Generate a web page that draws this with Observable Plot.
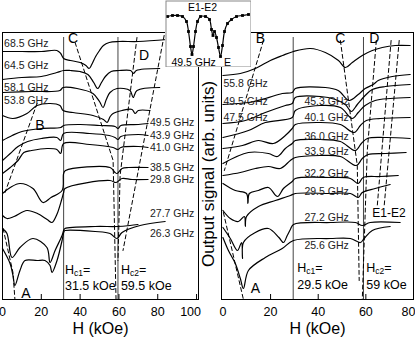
<!DOCTYPE html>
<html><head><meta charset="utf-8">
<script src="https://cdn.jsdelivr.net/npm/d3@7"></script>
<script src="https://cdn.jsdelivr.net/npm/@observablehq/plot@0.6"></script>
<style>
body{margin:0;background:#fff;}
#wrap{position:relative;width:415px;height:345px;overflow:hidden;}
#wrap svg{overflow:visible;}
</style></head><body><div id="wrap"></div>
<script>
// ---------- data: left panel (H in kOe, signal in arb. units) ----------
const leftFreqs = ["68.5 GHz","64.5 GHz","58.1 GHz","53.8 GHz","49.5 GHz","43.9 GHz","41.0 GHz","38.5 GHz","29.8 GHz","27.7 GHz","26.3 GHz"];
const L685 = [[0,248],[10,248],[20,248],[28,249],[30,246],[31.5,241],[35,239],[40,237],[43,234],[44.6,231],[46,235],[48,243],[50,249],[52,254],[55,257],[60,258],[70,258],[85,260]];
const L645 = [[0,220],[10,222],[20,223],[28,227],[31.5,229],[35,229],[40,228],[44,225],[47,217],[49,211],[51,217],[53,223],[56,228],[60,229],[66,229],[67.5,226],[69,229],[81,231]];
const L581 = [[0,207],[15,208],[29.6,209],[31.2,212],[38.4,211],[46.6,206],[50,198],[51.8,192],[53.5,200],[55.4,207],[59,211],[65.7,209],[67.3,202],[69.3,209],[81,212]];
const L538 = [[0,184],[5.4,181],[12.6,186],[17.8,194],[24.5,196],[29.6,194],[31.2,189],[36.3,187],[46.6,184],[52,180],[53.9,177],[55.5,183],[57,186],[61.6,189],[66.8,190],[68.3,186],[70,189],[76,189]];
const L495 = [[0,159],[5,164],[10,168],[20,171],[30,172],[31.5,174],[40,175],[50,174],[58,173],[59.5,171],[61,174],[70,175],[75,176]];
const L439 = [[0,139],[4,146],[8,153],[13,158],[20,161],[28,162],[30,159],[31.5,166],[45,166],[55,164],[58,162],[59.5,160],[61,163],[70,165],[75,164]];
const L410 = [[0,126],[4,132],[8,139],[11,147],[15,149],[23,151],[28,150],[30,146],[31.5,156],[45,155],[57,152],[59.5,150],[61,152],[70,153],[75,152]];
const L385 = [[0,106],[4,112],[9,116],[15.7,111],[20.9,97],[25,102],[30.7,109],[31.5,126],[32.5,129],[55.4,132],[58,127],[59,126],[61.6,131],[65,132],[75,132]];
const L298 = [[0,84],[2.3,81],[6,83],[12.6,89],[18,86],[23,80],[25.5,77],[28,85],[30.5,100],[31.5,107],[32.2,111],[55.4,119],[58.5,117],[61.6,121],[66.8,120],[75,120]];
const L277 = [[0,71],[2.3,66],[4.9,42],[9,52],[15.7,61],[22.9,52],[24.5,37],[27.1,49],[30.7,64],[31.7,70],[32.2,71],[47.7,73],[59,73],[65.7,74],[69.8,75]];
const L263 = [[0,51],[3.9,36],[5.4,24],[6.4,14],[9,29],[11.6,39],[17.8,39],[21.9,39],[24.5,34],[25.5,27],[28.1,39],[30.7,59],[31.7,68],[32.2,69],[47.7,68],[55.4,66],[59,61],[61.6,67],[70.9,74],[83.8,78]];
const leftCurves = [L685,L645,L581,L538,L495,L439,L410,L385,L298,L277,L263];
const leftHc = [31.5, 59.5];
const leftTicks = [0,20,40,60,80,100];
// guide (dashed) lines, left
const LA = [[0.3,71],[5.4,27],[6.4,0]];
const LB = [[17.8,196],[1.3,107]];
const LC = [[37.4,257],[57,139],[58.5,0]];
const LD1 = [[69.3,262],[60.6,124],[59.5,39]];
const LD2 = [[83.3,264],[62.1,49]];

// ---------- data: right panel ----------
const rightFreqs = ["55.8 GHz","49.5 GHz","47.5 GHz","45.3 GHz","40.1 GHz","36.0 GHz","33.9 GHz","32.2 GHz","29.5 GHz","27.2 GHz","25.6 GHz"];
const R558 = [[0,224],[7.3,226],[13.6,231],[19.9,239],[25,244],[29.6,248],[36.7,251],[43,247],[48.5,239],[51.4,232],[54.3,237],[58.5,244],[62.7,249],[66.9,252],[72.3,254],[78.6,254]];
const R495 = [[0,195],[10.7,197],[17.8,201],[24.9,206],[29.1,207],[30.4,211],[43,212],[48.4,209],[53,199],[56.8,205],[59.7,211],[63.1,215],[65.2,219],[71.1,223],[78.6,225]];
const R475 = [[0,176],[9.4,179],[17.8,187],[26.2,194],[29.1,196],[30.4,202],[40.9,203],[47.2,200],[51.4,195],[53.9,188],[56.4,195],[59.7,204],[62.7,210],[68.2,213],[78.6,215]];
const R453 = [[0,162],[10.7,169],[17.8,177],[29.1,182],[30.4,189],[40.9,194],[49.3,192],[54.3,181],[56.8,187],[59.7,194],[63.9,199],[70.2,201],[78.6,202]];
const R401 = [[0,151],[8.2,154],[14.9,159],[21.2,156],[26.2,164],[29.1,171],[30.4,175],[40.9,177],[49.3,175],[55.1,167],[57.7,174],[60.2,179],[66,181],[78.6,182]];
const R360 = [[0,136],[10.7,147],[19.1,146],[22.9,143],[26.2,151],[29.1,156],[30.4,159],[40.9,160],[49.3,158],[55.6,149],[58.1,156],[60.6,161],[68.2,162],[78.6,161]];
const R339 = [[0,124],[7.3,127],[13.6,131],[19.1,133],[24.1,131],[28.3,139],[30.4,142],[40.9,144],[49.3,143],[56,134],[58.5,141],[61,145],[68.2,146],[76.9,147]];
const R322 = [[0,116],[5.2,109],[9.9,106],[10.5,96],[11.1,106],[14.9,109],[19.1,112],[22.9,103],[25.4,111],[29.1,118],[30.4,121],[45.1,122],[53.5,121],[56.8,116],[58.9,122],[66,123],[73.6,124]];
const R295 = [[0,89],[3.1,81],[6.5,78],[9,83],[9.4,73],[9.9,83],[14.9,93],[22,99],[28.3,104],[30.4,106],[45.1,106],[53.5,106],[56.8,102],[58.5,107],[63.9,111],[70.2,115]];
const R272 = [[0,72],[3.1,61],[6.1,49],[7.8,57],[8.2,41],[8.6,57],[13.6,67],[19.1,71],[23.5,62],[25.4,57],[27,64],[28.3,70],[29.6,75],[45.1,77],[55.6,77],[58.5,74],[61.8,77],[74.4,77]];
const R256 = [[0,62],[2.3,49],[5.2,36],[7.3,21],[8.6,11],[10.7,29],[17.8,42],[24.9,51],[29.6,59],[45.1,61],[53.5,61],[57.7,57],[59.3,61],[62.7,69],[70.2,73]];
const rightCurves = [R558,R495,R475,R453,R401,R360,R339,R322,R295,R272,R256];
const rightHc = [29.5, 59];
const rightTicks = [0,20,40,60,80];
const RA = [[0.2,87],[8.6,0]];
const RB = [[17,259],[0.6,129]];
const RC = [[49.3,259],[56.4,134],[57.2,19]];
const RD = [[64.4,259],[60.6,149],[58.5,0]];
const RE1 = [[70.6,259],[64.8,94]];
const RE2 = [[74,259],[67.7,94]];

// ---------- data: inset (E1-E2 line at 49.5 GHz) ----------
const insetH = [2,7,12,17,21,23,25,26.5,28,30,32,35,40,44,46,47.5,49,51,53,55,57,59,62,66,71,77,83];
const insetS = [51,52,52,51,46,36,21,13,21,36,46,51,51,48,38,32,36,30,20,11,22,36,44,48,51,52,53];

// ---------- helpers ----------
const FONT = "'Liberation Sans', Arial, Helvetica, sans-serif";
const rows = (curves, names) => curves.flatMap((c, i) => c.map(([H, s]) => ({H, s, f: names[i]})));
const guides = (list) => list.flatMap((g, i) => g.map(([H, s]) => ({H, s, g: i})));

function subscriptHc(svg) {
  d3.select(svg).selectAll("text").each(function() {
    const t = this.textContent;
    const m = /^H(c\d)=$/.exec(t);
    if (m) {
      const sel = d3.select(this);
      sel.text("");
      sel.append("tspan").text("H");
      sel.append("tspan").attr("font-size", "8.5px").attr("dy", "2").text(m[1]);
      sel.append("tspan").attr("dy", "-2").text("=");
    }
  });
}

const wrap = document.getElementById("wrap");

// ---------- left panel ----------
const left = Plot.plot({
  width: 205, height: 345,
  marginLeft: 2, marginRight: 7, marginTop: 32, marginBottom: 46,
  x: {domain: [0, 101]},
  y: {domain: [0, 267], axis: null},
  style: {fontFamily: FONT, fontSize: "12.5px", background: "transparent", color: "black", overflow: "visible"},
  marks: [
    Plot.ruleX(leftHc, {y1: 0, y2: 262, stroke: "#444", strokeWidth: 1}),
    Plot.line(guides([LA, LB, LC, LD1, LD2]), {x: "H", y: "s", z: "g", stroke: "black", strokeWidth: 1, strokeDasharray: "4,3"}),
    Plot.line(rows(leftCurves, leftFreqs), {x: "H", y: "s", z: "f", stroke: "black", strokeWidth: 1.2, curve: "catmull-rom"}),
    Plot.ruleX(leftTicks.slice(1), {y1: 0, y2: 5, stroke: "black"}),
    Plot.axisX(leftTicks.slice(0, -1), {tickSize: 0, tickPadding: 8, label: null, fontSize: 12.5}),
    Plot.axisX(leftTicks.slice(-1), {tickSize: 0, tickPadding: 8, label: null, fontSize: 12.5, dx: -6}),
    Plot.text(["H (kOe)"], {frameAnchor: "bottom", dy: 34, fontSize: 16}),
    Plot.text(leftFreqs.slice(0, 4), {x: 0.8, y: [256, 234, 212, 199], textAnchor: "start", fontSize: 10.5, fill: "#222"}),
    Plot.text(leftFreqs.slice(4), {x: 76, y: [177, 164, 152, 132, 120, 86, 66], textAnchor: "start", fontSize: 10.5, fill: "#222"}),
    Plot.text(["A", "B", "C", "D"], {x: [12.1, 19.3, 36.3, 73], y: [6, 174, 261, 244], fontSize: 14}),
    Plot.text(["Hc1=", "31.5 kOe"], {x: 32.2, y: [30, 14], textAnchor: "start", fontSize: 12.5}),
    Plot.text(["Hc2=", "59.5 kOe"], {x: 61, y: [30, 14], textAnchor: "start", fontSize: 12.5}),
    Plot.frame({stroke: "black", strokeWidth: 1})
  ]
});
subscriptHc(left);
left.style.position = "absolute"; left.style.left = "0px"; left.style.top = "0px";
wrap.appendChild(left);

// ---------- right panel ----------
const right = Plot.plot({
  width: 215, height: 345,
  marginLeft: 21, marginRight: 2, marginTop: 32, marginBottom: 46,
  x: {domain: [-0.6, 80]},
  y: {domain: [0, 267], axis: null},
  style: {fontFamily: FONT, fontSize: "12.5px", background: "transparent", color: "black", overflow: "visible"},
  marks: [
    Plot.ruleX(rightHc, {y1: 0, y2: 262, stroke: "#444", strokeWidth: 1}),
    Plot.line(guides([RA, RB, RC, RD, RE1, RE2]), {x: "H", y: "s", z: "g", stroke: "black", strokeWidth: 1, strokeDasharray: "4,3"}),
    Plot.line(rows(rightCurves, rightFreqs), {x: "H", y: "s", z: "f", stroke: "black", strokeWidth: 1.2, curve: "catmull-rom"}),
    Plot.ruleX(rightTicks.slice(1), {y1: 0, y2: 5, stroke: "black"}),
    Plot.axisX(rightTicks.slice(0, -1), {tickSize: 0, tickPadding: 8, label: null, fontSize: 12.5}),
    Plot.axisX(rightTicks.slice(-1), {tickSize: 0, tickPadding: 8, label: null, fontSize: 12.5, dx: -5}),
    Plot.text(["H (kOe)"], {frameAnchor: "bottom", dy: 34, fontSize: 16}),
    Plot.text(["Output signal (arb. units)"], {frameAnchor: "left", textAnchor: "middle", rotate: -90, dx: -13, dy: 8, fontSize: 17}),
    Plot.text(rightFreqs.slice(0, 3), {x: 0.2, y: [216, 198, 182], textAnchor: "start", fontSize: 10.5, fill: "#222"}),
    Plot.text(rightFreqs.slice(3), {x: 34.2, y: [198, 182, 163, 148, 126, 108, 82, 54], textAnchor: "start", fontSize: 10.5, fill: "#222"}),
    Plot.text(["E1-E2"], {x: 62.7, y: 86, textAnchor: "start", fontSize: 12}),
    Plot.text(["A", "B", "C", "D"], {x: [13.6, 15.7, 49.3, 63.5], y: [11, 261, 261, 261], fontSize: 14}),
    Plot.text(["Hc1=", "29.5 kOe"], {x: 31.2, y: [32, 15], textAnchor: "start", fontSize: 12.5}),
    Plot.text(["Hc2=", "59 kOe"], {x: 60.2, y: [32, 15], textAnchor: "start", fontSize: 12.5}),
    Plot.frame({stroke: "black", strokeWidth: 1})
  ]
});
subscriptHc(right);
right.style.position = "absolute"; right.style.left = "200px"; right.style.top = "0px";
wrap.appendChild(right);

// ---------- inset ----------
const insetRows = insetH.map((h, i) => ({h, s: insetS[i]}));
const inset = Plot.plot({
  width: 86, height: 67,
  marginLeft: 0, marginRight: 0, marginTop: 0, marginBottom: 0,
  x: {domain: [0, 86], axis: null},
  y: {domain: [0, 67], axis: null},
  style: {fontFamily: FONT, background: "white", color: "black"},
  marks: [
    Plot.line(insetRows, {x: "h", y: "s", stroke: "black", strokeWidth: 1.2, curve: "catmull-rom"}),
    Plot.dot(insetRows, {x: "h", y: "s", r: 1.6, symbol: "square", fill: "black"}),
    Plot.text(["E1-E2"], {x: 37, y: 60, fontSize: 10.5}),
    Plot.text(["49.5 GHz"], {x: 6, y: 5, textAnchor: "start", fontSize: 10.5}),
    Plot.text(["E"], {x: 62, y: 5, fontSize: 10.5}),
    Plot.frame({stroke: "#888", inset: 0.5})
  ]
});
inset.style.position = "absolute"; inset.style.left = "165px"; inset.style.top = "0px"; inset.style.overflow = "hidden";
wrap.appendChild(inset);
</script></body></html>
